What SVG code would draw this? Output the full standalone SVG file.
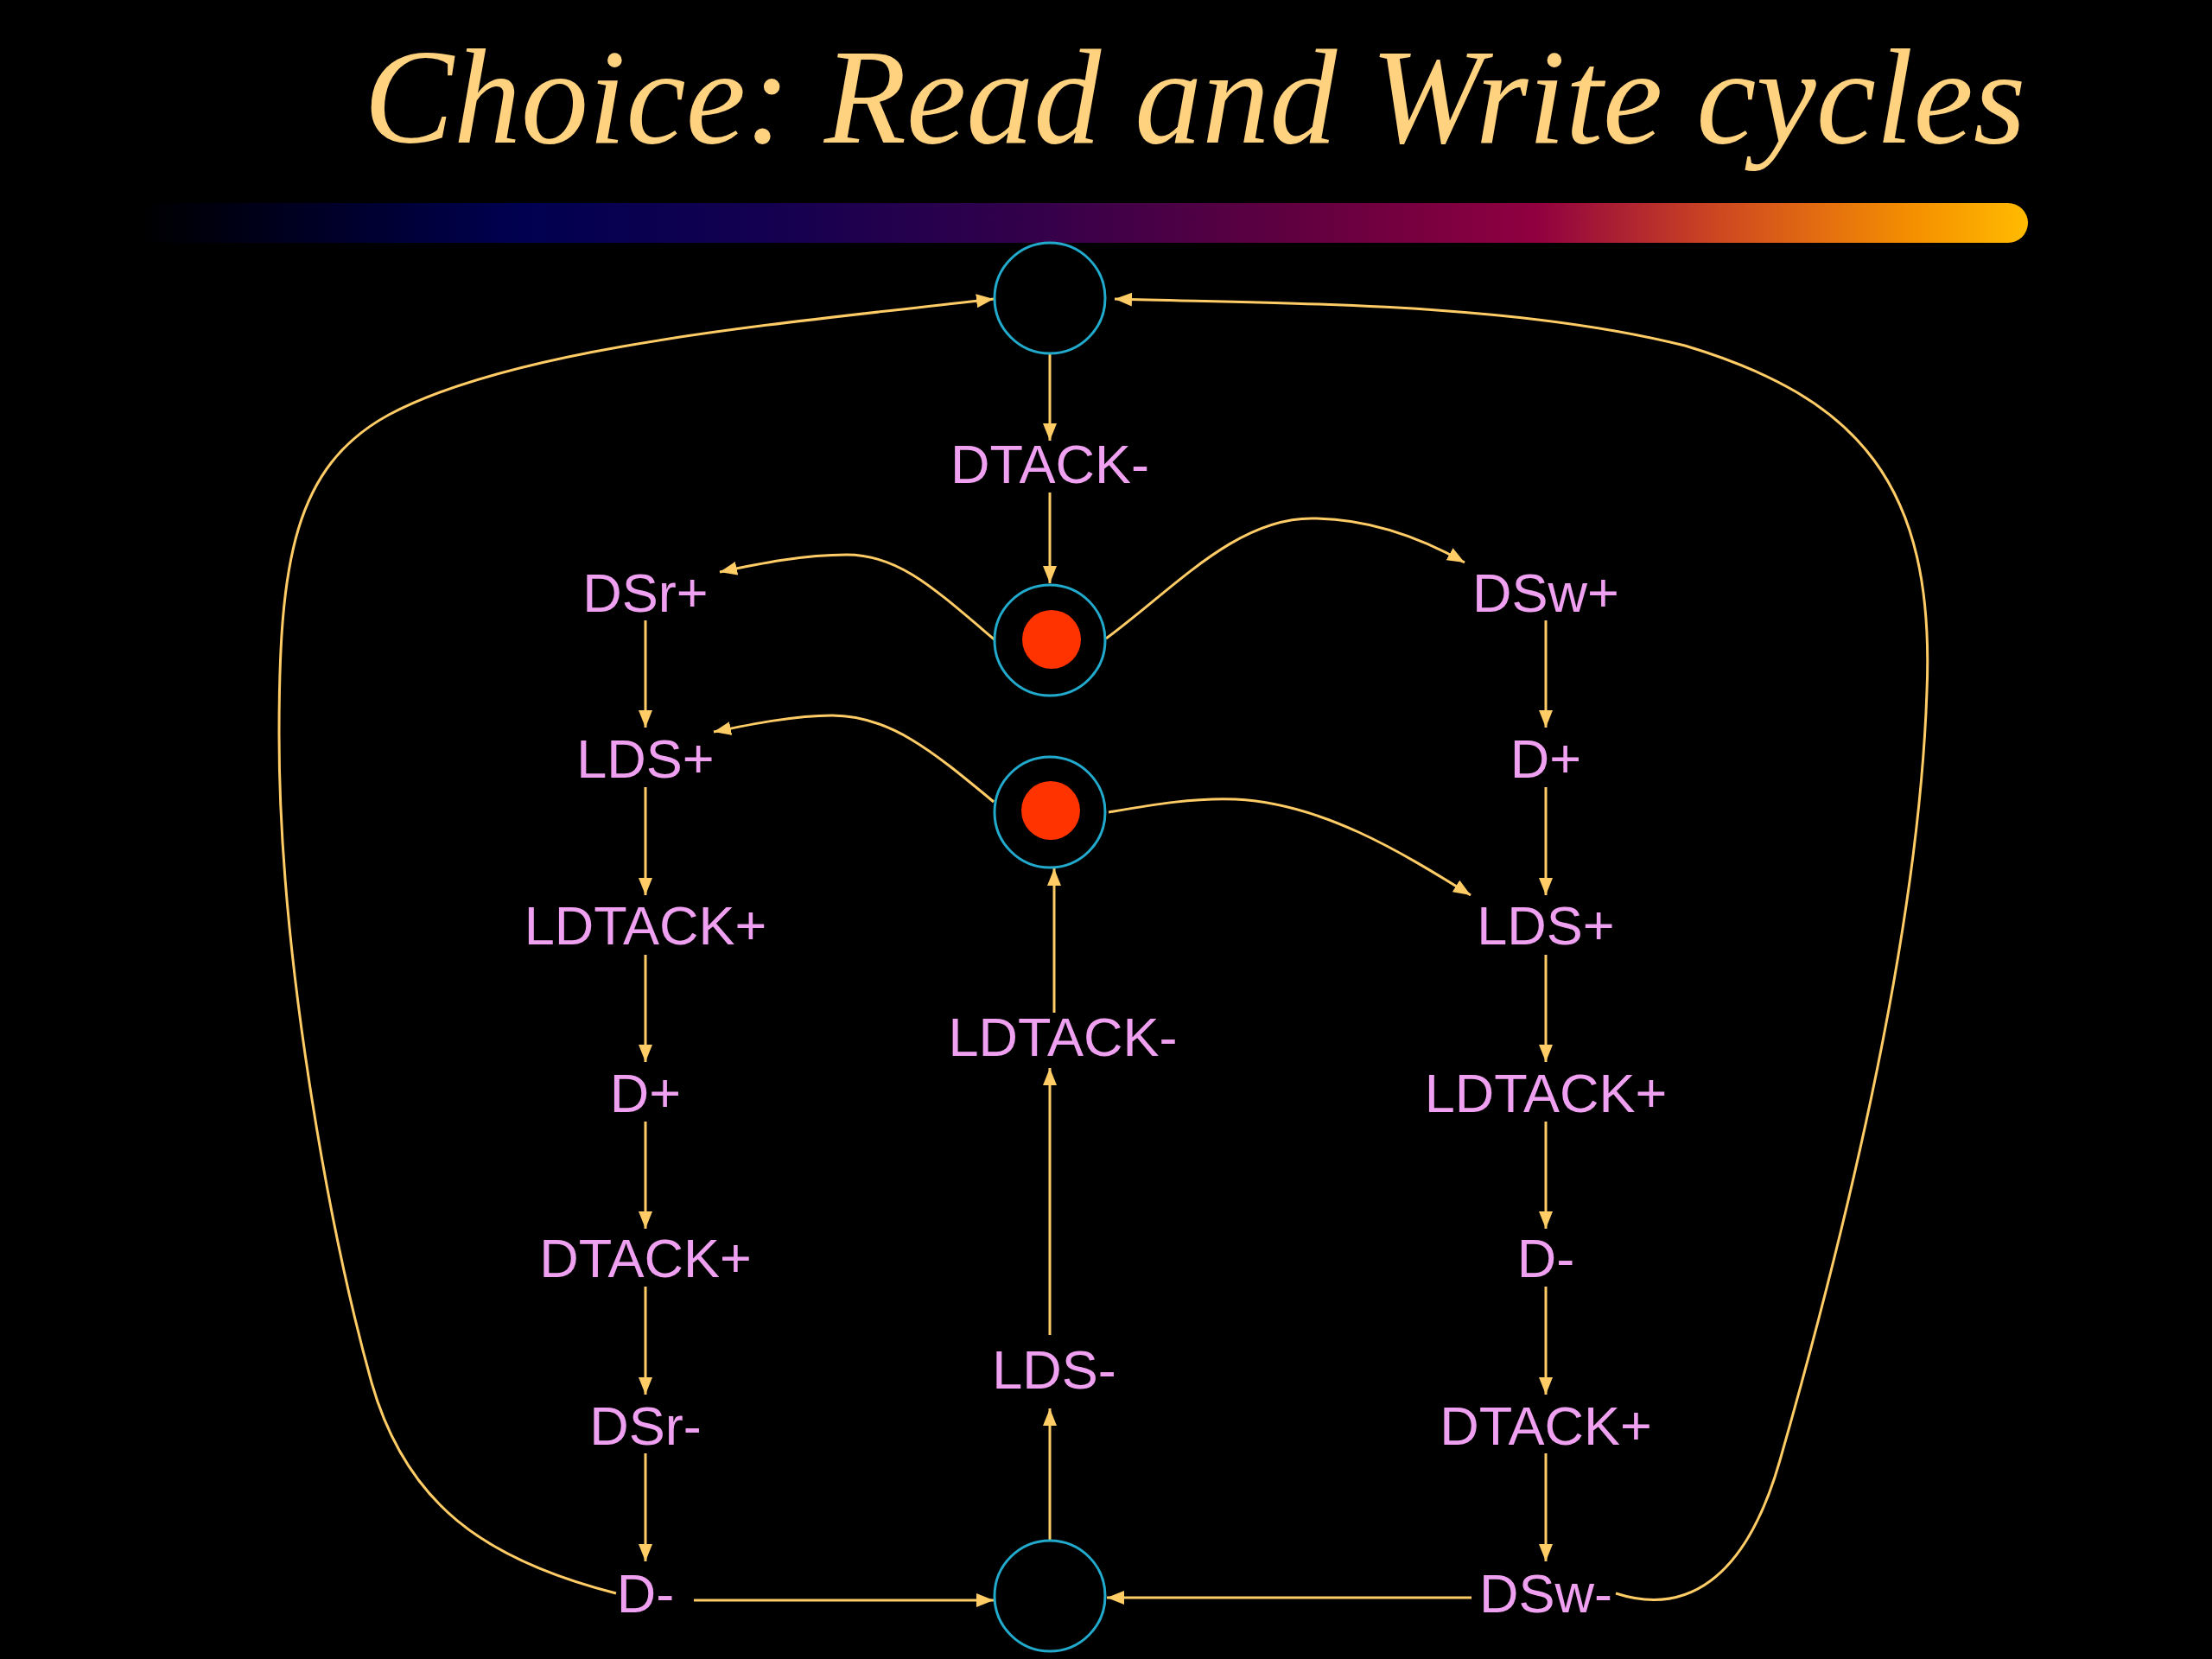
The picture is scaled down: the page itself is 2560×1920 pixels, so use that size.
<svg xmlns="http://www.w3.org/2000/svg" width="2560" height="1920" viewBox="0 0 2560 1920">
<defs>
<linearGradient id="bar" x1="160" y1="0" x2="2347" y2="0" gradientUnits="userSpaceOnUse">
<stop offset="0" stop-color="#000000"/>
<stop offset="0.2" stop-color="#000050"/>
<stop offset="0.34" stop-color="#150050"/>
<stop offset="0.48" stop-color="#35004A"/>
<stop offset="0.61" stop-color="#600040"/>
<stop offset="0.74" stop-color="#900040"/>
<stop offset="0.84" stop-color="#D04A20"/>
<stop offset="0.94" stop-color="#F59000"/>
<stop offset="1" stop-color="#FFBB00"/>
</linearGradient>
<marker id="ah" viewBox="0 0 20 16" refX="20" refY="8" markerWidth="20" markerHeight="16" markerUnits="userSpaceOnUse" orient="auto">
<path d="M0,0 L20,8 L0,16 z" fill="#FFCC66"/>
</marker>
</defs>
<style>
.t{font-family:"Liberation Sans",Arial,sans-serif;font-size:63px;fill:#F0A0F0;text-anchor:middle}
.c{fill:none;stroke:#FFCC66;stroke-width:3;marker-end:url(#ah)}
.p{fill:#000;stroke:#22AACC;stroke-width:3}
.k{fill:#FF3300}
</style>
<rect x="0" y="0" width="2560" height="1920" fill="#000"/>
<text x="421" y="165" font-family="'Liberation Serif','Times New Roman',serif" font-style="italic" font-size="156" fill="#FFD280">Choice: Read and Write cycles</text>
<rect x="160" y="235" width="2187" height="46" rx="23" fill="url(#bar)"/>

<g id="connectors">
<path class="c" d="M1215 409 L1215 510"/>
<path class="c" d="M1215 570 L1215 675"/>
<path class="c" d="M747 718 L747 842"/>
<path class="c" d="M747 911 L747 1036"/>
<path class="c" d="M747 1105 L747 1229"/>
<path class="c" d="M747 1298 L747 1422"/>
<path class="c" d="M747 1489 L747 1614"/>
<path class="c" d="M747 1682 L747 1807"/>
<path class="c" d="M1789 718 L1789 842"/>
<path class="c" d="M1789 911 L1789 1036"/>
<path class="c" d="M1789 1105 L1789 1229"/>
<path class="c" d="M1789 1298 L1789 1422"/>
<path class="c" d="M1789 1489 L1789 1614"/>
<path class="c" d="M1789 1682 L1789 1807"/>
<path class="c" d="M803 1852 L1150 1852"/>
<path class="c" d="M1703 1849 L1281 1849"/>
<path class="c" d="M1215 1783 L1215 1630"/>
<path class="c" d="M1215 1545 L1215 1236"/>
<path class="c" d="M1220 1172 L1220 1005"/>
<path class="c" d="M1153 742 C1080 680 1040 642 980 642 C930 642 880 652 833 662"/>
<path class="c" d="M1150 928 C1080 870 1030 828 963 828 C920 828 870 838 826 847"/>
<path class="c" d="M1280 739 C1360 680 1430 600 1518 600 C1580 600 1640 620 1695 651"/>
<path class="c" d="M1283 940 C1330 932 1380 923 1430 925 C1530 930 1620 985 1702 1036"/>
<path class="c" d="M713 1844 C560 1805 470 1740 430 1600 C380 1420 323 1100 323 850 C323 650 340 540 450 480 C600 400 900 375 1150 346"/>
<path class="c" d="M1870 1844 C1950 1870 2020 1830 2060 1690 C2120 1480 2220 1100 2230 800 C2240 560 2150 460 1950 400 C1750 350 1500 352 1290 346"/>
</g>

<g id="place-top"><circle class="p" cx="1215" cy="345" r="64"/></g>
<g id="place-m1"><circle class="p" cx="1215" cy="741" r="64"/><circle class="k" cx="1217" cy="740" r="34"/></g>
<g id="place-m2"><circle class="p" cx="1215" cy="940" r="64"/><circle class="k" cx="1216" cy="938" r="34"/></g>
<g id="place-bottom"><circle class="p" cx="1215" cy="1847" r="64"/></g>

<g id="t-dtack-m"><text class="t" x="1215" y="559">DTACK-</text></g>
<g id="t-ldtack-m"><text class="t" x="1230" y="1222">LDTACK-</text></g>
<g id="t-lds-m"><text class="t" x="1220" y="1607">LDS-</text></g>

<g id="t-dsr-p"><text class="t" x="747" y="708">DSr+</text></g>
<g id="t-lds-p-r"><text class="t" x="747" y="900">LDS+</text></g>
<g id="t-ldtack-p-r"><text class="t" x="747" y="1093">LDTACK+</text></g>
<g id="t-d-p-r"><text class="t" x="747" y="1287">D+</text></g>
<g id="t-dtack-p-r"><text class="t" x="747" y="1478">DTACK+</text></g>
<g id="t-dsr-m"><text class="t" x="747" y="1672">DSr-</text></g>
<g id="t-d-m-r"><text class="t" x="747" y="1866">D-</text></g>

<g id="t-dsw-p"><text class="t" x="1789" y="708">DSw+</text></g>
<g id="t-d-p-w"><text class="t" x="1789" y="900">D+</text></g>
<g id="t-lds-p-w"><text class="t" x="1789" y="1093">LDS+</text></g>
<g id="t-ldtack-p-w"><text class="t" x="1789" y="1287">LDTACK+</text></g>
<g id="t-d-m-w"><text class="t" x="1789" y="1478">D-</text></g>
<g id="t-dtack-p-w"><text class="t" x="1789" y="1672">DTACK+</text></g>
<g id="t-dsw-m"><text class="t" x="1789" y="1866">DSw-</text></g>
</svg>
